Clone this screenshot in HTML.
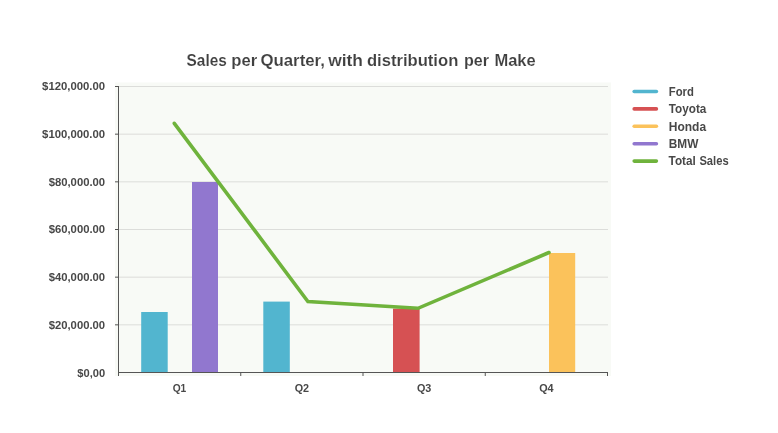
<!DOCTYPE html>
<html>
<head>
<meta charset="utf-8">
<title>Sales per Quarter, with distribution per Make</title>
<style>
  html, body { margin: 0; padding: 0; background: #ffffff; }
  body { width: 778px; height: 433px; overflow: hidden; }
  svg { display: block; }
  text { font-family: "Liberation Sans", sans-serif; font-weight: bold; fill: #484848; }
  .title { font-size: 16px; fill: #404040; stroke: #ffffff; stroke-width: 0.12px; }
  .ylab { font-size: 11px; text-anchor: end; }
  .xlab { font-size: 11.6px; text-anchor: middle; }
  .leg { font-size: 12px; }
</style>
</head>
<body>
<svg width="778" height="433" viewBox="0 0 778 433">
  <rect x="0" y="0" width="778" height="433" fill="#ffffff"/>

  <!-- title -->
  <text class="title" y="65.6"><tspan x="186.6" textLength="40.2" lengthAdjust="spacingAndGlyphs">Sales</tspan> <tspan x="231.3" textLength="25.9" lengthAdjust="spacingAndGlyphs">per</tspan> <tspan x="260.4" textLength="64.5" lengthAdjust="spacingAndGlyphs">Quarter,</tspan> <tspan x="328.2" textLength="34.8" lengthAdjust="spacingAndGlyphs">with</tspan> <tspan x="366.9" textLength="91.4" lengthAdjust="spacingAndGlyphs">distribution</tspan> <tspan x="463.9" textLength="25.0" lengthAdjust="spacingAndGlyphs">per</tspan> <tspan x="494.4" textLength="41.3" lengthAdjust="spacingAndGlyphs">Make</tspan></text>

  <!-- plot area background -->
  <rect x="115" y="82.5" width="496" height="293.5" fill="#f8faf6"/>

  <!-- horizontal grid lines -->
  <g stroke="#dcddda" stroke-width="1">
    <line x1="119" y1="86.5" x2="608" y2="86.5"/>
    <line x1="119" y1="134.17" x2="608" y2="134.17"/>
    <line x1="119" y1="181.83" x2="608" y2="181.83"/>
    <line x1="119" y1="229.5" x2="608" y2="229.5"/>
    <line x1="119" y1="277.17" x2="608" y2="277.17"/>
    <line x1="119" y1="324.83" x2="608" y2="324.83"/>
  </g>

  <!-- bars -->
  <rect x="141.2" y="312" width="26.5" height="60.5" fill="#52b5cf"/>
  <rect x="192" y="182" width="26" height="190.5" fill="#9177cf"/>
  <rect x="263.3" y="301.6" width="26.5" height="70.9" fill="#52b5cf"/>
  <rect x="393" y="308.6" width="26.6" height="63.9" fill="#d65153"/>
  <rect x="549" y="253" width="26.2" height="119.5" fill="#fbc25b"/>

  <!-- axes -->
  <g stroke="#555555" stroke-width="1" fill="none">
    <line x1="118.5" y1="86" x2="118.5" y2="376"/>
    <line x1="118" y1="372.5" x2="608" y2="372.5"/>
    <!-- y ticks -->
    <line x1="115" y1="86.5" x2="118" y2="86.5"/>
    <line x1="115" y1="134.17" x2="118" y2="134.17"/>
    <line x1="115" y1="181.83" x2="118" y2="181.83"/>
    <line x1="115" y1="229.5" x2="118" y2="229.5"/>
    <line x1="115" y1="277.17" x2="118" y2="277.17"/>
    <line x1="115" y1="324.83" x2="118" y2="324.83"/>
    <!-- x ticks -->
    <line x1="240.75" y1="372" x2="240.75" y2="376"/>
    <line x1="363" y1="372" x2="363" y2="376"/>
    <line x1="485.25" y1="372" x2="485.25" y2="376"/>
    <line x1="607.5" y1="372" x2="607.5" y2="376"/>
  </g>

  <!-- total sales line -->
  <polyline points="174.3,123.3 307.9,301.5 418,308.3 549,252.5" fill="none" stroke="#6fb33c" stroke-width="3.6" stroke-linecap="round" stroke-linejoin="miter"/>

  <!-- y axis labels -->
  <text class="ylab" x="105.1" y="90" textLength="63" lengthAdjust="spacingAndGlyphs">$120,000.00</text>
  <text class="ylab" x="105.1" y="137.7" textLength="63" lengthAdjust="spacingAndGlyphs">$100,000.00</text>
  <text class="ylab" x="105.1" y="185.8" textLength="56.4" lengthAdjust="spacingAndGlyphs">$80,000.00</text>
  <text class="ylab" x="105.1" y="233" textLength="56.4" lengthAdjust="spacingAndGlyphs">$60,000.00</text>
  <text class="ylab" x="105.1" y="280.7" textLength="56.4" lengthAdjust="spacingAndGlyphs">$40,000.00</text>
  <text class="ylab" x="105.1" y="328.8" textLength="56.4" lengthAdjust="spacingAndGlyphs">$20,000.00</text>
  <text class="ylab" x="105.1" y="377" textLength="27.8" lengthAdjust="spacingAndGlyphs">$0,00</text>

  <!-- x axis labels -->
  <text class="xlab" x="179.5" y="392.2" textLength="13.6" lengthAdjust="spacingAndGlyphs">Q1</text>
  <text class="xlab" x="301.9" y="392.2" textLength="14.4" lengthAdjust="spacingAndGlyphs">Q2</text>
  <text class="xlab" x="424.1" y="392.2" textLength="14.4" lengthAdjust="spacingAndGlyphs">Q3</text>
  <text class="xlab" x="546.4" y="392.2" textLength="14.4" lengthAdjust="spacingAndGlyphs">Q4</text>

  <!-- legend -->
  <g stroke-width="3.6" stroke-linecap="round" fill="none">
    <line x1="634.2" y1="91.5" x2="656.4" y2="91.5" stroke="#52b5cf"/>
    <line x1="634.2" y1="108.9" x2="656.4" y2="108.9" stroke="#d65153"/>
    <line x1="634.2" y1="126.3" x2="656.4" y2="126.3" stroke="#fbc25b"/>
    <line x1="634.2" y1="143.7" x2="656.4" y2="143.7" stroke="#9177cf"/>
    <line x1="634.2" y1="161.1" x2="656.4" y2="161.1" stroke="#6fb33c"/>
  </g>
  <text class="leg" x="668.8" y="95.7" textLength="25.1" lengthAdjust="spacingAndGlyphs">Ford</text>
  <text class="leg" x="668.8" y="113.1" textLength="37.5" lengthAdjust="spacingAndGlyphs">Toyota</text>
  <text class="leg" x="668.8" y="130.5" textLength="37.3" lengthAdjust="spacingAndGlyphs">Honda</text>
  <text class="leg" x="668.8" y="148.0" textLength="29.6" lengthAdjust="spacingAndGlyphs">BMW</text>
  <text class="leg" y="165.4"><tspan x="668.6" textLength="27.2" lengthAdjust="spacingAndGlyphs">Total</tspan> <tspan x="699.4" textLength="29.2" lengthAdjust="spacingAndGlyphs">Sales</tspan></text>
</svg>
</body>
</html>
